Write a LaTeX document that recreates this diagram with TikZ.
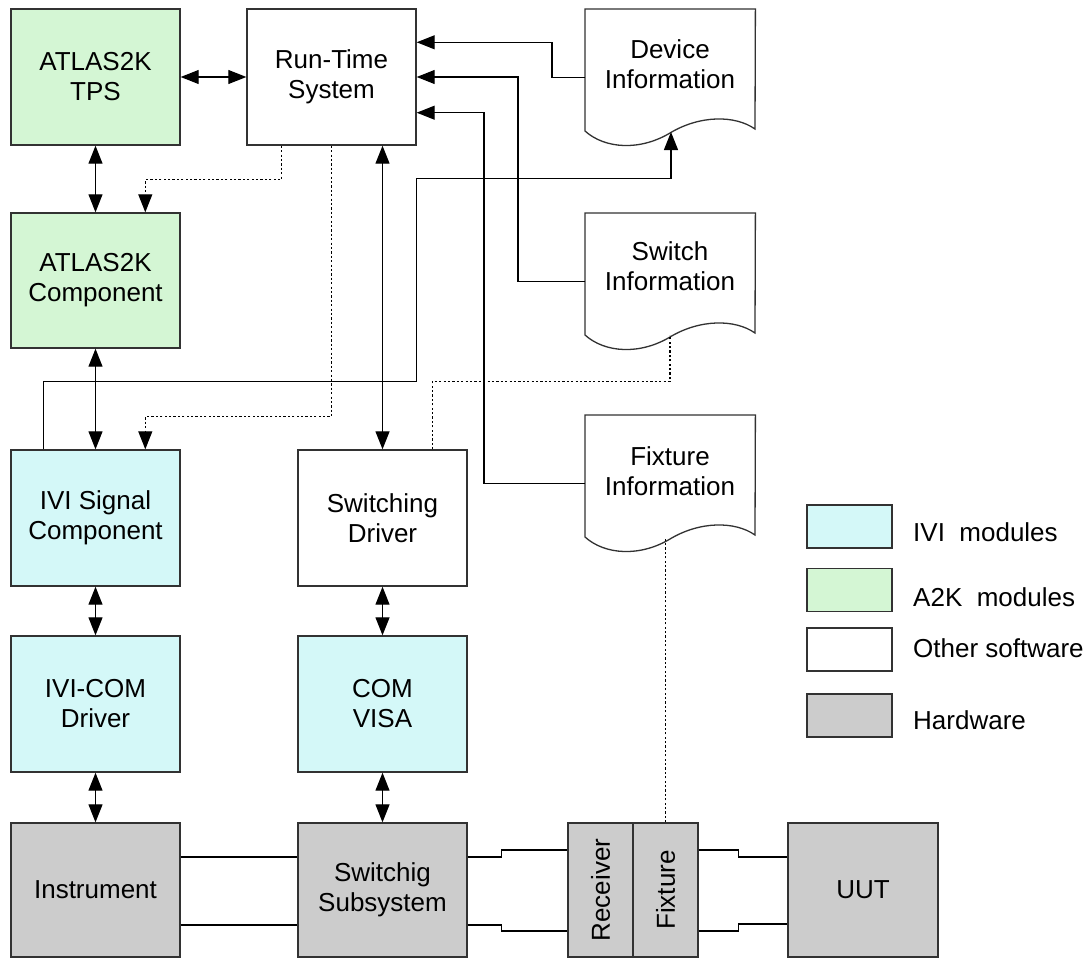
\documentclass[tikz,border=0pt]{standalone}
\usepackage{fontspec}
\setmainfont{Liberation Sans}
\usetikzlibrary{arrows.meta,calc}
\definecolor{a2k}{RGB}{212,246,212}
\definecolor{ivi}{RGB}{212,248,248}
\definecolor{hw}{RGB}{204,204,204}
\definecolor{edge}{RGB}{50,50,50}
\tikzset{
  x=1pt,y=-1pt,
  lbl/.style={font=\fontsize{26}{30}\selectfont,align=center},
  box/.style={draw=edge,line width=1.4pt,minimum width=169pt,minimum height=136pt,inner sep=0pt,lbl},
  a2kbox/.style={box,fill=a2k},
  ivibox/.style={box,fill=ivi},
  swbox/.style={box,fill=white},
  hwbox/.style={box,fill=hw},
  docnode/.style={minimum width=170pt,minimum height=136pt,inner sep=0pt,anchor=north west},
  docline/.style={draw=edge,line width=1.3pt,fill=white},
  conn/.style={draw=black,line width=1.3pt},
  tipend/.style={conn,-{Triangle[length=18pt,width=14pt]}},
  dbl/.style={conn,{Triangle[length=18pt,width=14pt]}-{Triangle[length=18pt,width=14pt]}},
  dots/.style={draw=black,line width=1.2pt,dash pattern=on 2.2pt off 2.2pt},
  dotarr/.style={dots,-{Triangle[length=18pt,width=14pt]}},
  legbox/.style={draw=edge,line width=1.4pt,minimum width=85pt,minimum height=43pt,inner sep=0pt},
  legtxt/.style={font=\fontsize{26}{30}\selectfont,anchor=west,inner sep=0pt}
}
\newcommand\docpath[1]{%
  \path[docline] (#1.north west) -- (#1.north east) -- ($(#1.north west)+(170,120)$)
   .. controls ($(#1.north west)+(150,106)$) and ($(#1.north west)+(115,106)$) .. ($(#1.north west)+(85,124)$)
   .. controls ($(#1.north west)+(55,142)$) and ($(#1.north west)+(20,140)$) .. ($(#1.north west)+(0,122)$) -- cycle;}
\begin{document}
\begin{tikzpicture}
\useasboundingbox (0,0) rectangle (1090,958);
% software boxes
\node[a2kbox] (tps) at (95.5,77) {ATLAS2K\\TPS};
\node[swbox] (rts) at (331.5,77) {Run-Time\\System};
\node[a2kbox,minimum height=135pt] (comp) at (95.5,280.5) {ATLAS2K\\Component};
\node[ivibox] (ivisig) at (95.5,518) {IVI Signal\\Component};
\node[swbox] (swdrv) at (382.5,518) {Switching\\Driver};
\node[ivibox] (ivicom) at (95.5,704) {IVI-COM\\Driver};
\node[ivibox] (visa) at (382.5,704) {COM\\VISA};
% hardware
\node[hwbox,minimum height=134pt] (instr) at (95.5,890) {Instrument};
\node[hwbox,minimum height=134pt] (swsub) at (382.5,890) {Switchig\\Subsystem};
\node[hwbox,minimum height=134pt,minimum width=65pt] (recv) at (600.5,890) {};
\node[lbl,rotate=90] (recvt) at (recv) {Receiver};
\node[hwbox,minimum height=134pt,minimum width=65pt] (fixt) at (665.5,890) {};
\node[lbl,rotate=90] (fixtt) at (fixt) {Fixture};
\node[hwbox,minimum height=134pt,minimum width=150pt] (uut) at (863,890) {UUT};
% documents
\node[docnode] (dev) at (585,9) {};
\docpath{dev}
\node[lbl] (devt) at ($(dev.north west)+(85,55)$) {Device\\Information};
\node[docnode] (swi) at (585,213) {};
\docpath{swi}
\node[lbl] (swit) at ($(swi.north west)+(85,53)$) {Switch\\Information};
\node[docnode] (fix) at (585,415) {};
\docpath{fix}
\node[lbl] (fixtxt) at ($(fix.north west)+(85,56)$) {Fixture\\Information};
\coordinate (devwave) at ($(dev.north west)+(86,123)$);
\coordinate (swiwave) at ($(swi.north west)+(85,122)$);
\coordinate (fixwave) at ($(fix.north west)+(82,123)$);
% solid connectors
\draw[dbl] (tps.east) -- (rts.west);
\draw[dbl] (tps.south) -- (comp.north);
\draw[dbl] (comp.south) -- (ivisig.north);
\draw[dbl] (ivisig.south) -- (ivicom.north);
\draw[dbl] (ivicom.south) -- (instr.north);
\draw[dbl] (swdrv.north |- rts.south) -- (swdrv.north);
\draw[dbl] (swdrv.south) -- (visa.north);
\draw[dbl] (visa.south) -- (swsub.north);
\draw[tipend] (dev.west) -- ++(-33,0) |- ($(rts.north east)+(0,34)$);
\draw[tipend] (swi.west) -- ++(-67,0) |- (rts.east);
\draw[tipend] (fix.west) -- ++(-101,0) |- ($(rts.south east)+(0,-33)$);
\draw[tipend] ($(ivisig.north west)+(33,0)$) -- ++(0,-68) -- ++(373,0) -- ++(0,-203) -| (devwave);
% dotted connectors
\draw[dotarr] ($(rts.south west)+(35,0)$) -- ++(0,34) -| ($(comp.north west)+(135,0)$);
\draw[dotarr] ($(rts.south west)+(85,0)$) -- ++(0,271) -| ($(ivisig.north west)+(135,0)$);
\draw[dots] ($(swdrv.north west)+(135,0)$) -- ++(0,-68) -| (swiwave);
\draw[dots] (fixt.north) -- (fixt.north |- fixwave);
% hardware links
\draw[conn] ($(instr.east)+(0,-33)$) -- ($(swsub.west)+(0,-33)$);
\draw[conn] ($(instr.east)+(0,35)$) -- ($(swsub.west)+(0,35)$);
\draw[conn] ($(swsub.east)+(0,-33)$) -- ++(34,0) -- ++(0,-7) -- ($(recv.west)+(0,-40)$);
\draw[conn] ($(swsub.east)+(0,35)$) -- ++(34,0) -- ++(0,6) -- ($(recv.west)+(0,41)$);
\draw[conn] ($(fixt.east)+(0,-40)$) -- ++(40,0) -- ++(0,7) -- ($(uut.west)+(0,-33)$);
\draw[conn] ($(fixt.east)+(0,41)$) -- ++(40,0) -- ++(0,-7) -- ($(uut.west)+(0,34)$);
% legend
\node[legbox,fill=ivi] (lg1) at (849.5,526.5) {};
\node[legbox,fill=a2k] (lg2) at (849.5,590) {};
\node[legbox,fill=white] (lg3) at (849.5,649.5) {};
\node[legbox,fill=hw] (lg4) at (849.5,715.5) {};
\node[legtxt] (lt1) at (913,532) {IVI\ \ modules};
\node[legtxt] (lt2) at (913,597) {A2K\ \ modules};
\node[legtxt] (lt3) at (913,648) {Other software};
\node[legtxt] (lt4) at (913,720) {Hardware};
\end{tikzpicture}
\end{document}
